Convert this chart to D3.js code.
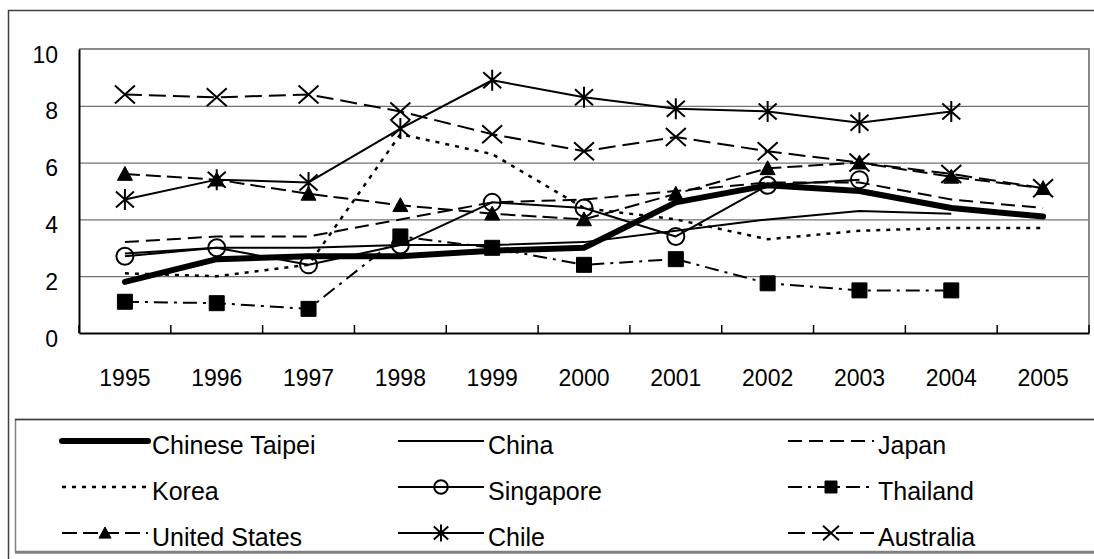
<!DOCTYPE html>
<html><head><meta charset="utf-8">
<script src="https://cdn.jsdelivr.net/npm/d3@7"></script>
<style>
body{margin:0;background:#fff}
svg{display:block}
text{font-family:"Liberation Sans",Arial,sans-serif;fill:#000}
</style>
</head><body>
<svg id="c" width="1094" height="559"></svg>
<script>
const years = ["1995","1996","1997","1998","1999","2000","2001","2002","2003","2004","2005"];
const yTicks = [0,2,4,6,8,10];

const chineseTaipei = [1.8, 2.6, 2.7, 2.7, 2.9, 3.0, 4.6, 5.2, 5.0, 4.4, 4.1];
const china         = [2.8, 3.0, 3.0, 3.1, 3.1, 3.2, 3.6, 4.0, 4.3, 4.2, null];
const japan         = [3.2, 3.4, 3.4, 4.0, 4.6, 4.7, 5.0, 5.3, 5.3, 4.7, 4.4];
const korea         = [2.1, 2.0, 2.4, 7.0, 6.3, 4.4, 4.0, 3.3, 3.6, 3.7, 3.7];
const singapore     = [2.7, 3.0, 2.4, 3.1, 4.6, 4.4, 3.4, 5.2, 5.4, null, null];
const thailand      = [1.1, 1.05, 0.85, 3.4, 3.0, 2.4, 2.6, 1.75, 1.5, 1.5, null];
const unitedStates  = [5.6, 5.4, 4.9, 4.5, 4.2, 4.0, 4.9, 5.8, 6.0, 5.5, 5.1];
const chile         = [4.7, 5.4, 5.3, 7.2, 8.9, 8.3, 7.9, 7.8, 7.4, 7.8, null];
const australia     = [8.4, 8.3, 8.4, 7.8, 7.0, 6.4, 6.9, 6.4, 6.0, 5.6, 5.1];

const seriesNames = ["Chinese Taipei","China","Japan","Korea","Singapore","Thailand","United States","Chile","Australia"];
const seriesValues = [chineseTaipei, china, japan, korea, singapore, thailand, unitedStates, chile, australia];
const styles = [
  {w:6, dash:null, marker:null, cap:"round"},
  {w:2, dash:null, marker:null},
  {w:2, dash:"14,7", marker:null},
  {w:2.5, dash:"4,6", marker:null},
  {w:2, dash:null, marker:"circle"},
  {w:2, dash:"14,6,3,6", marker:"square"},
  {w:2, dash:"15,6", marker:"triangle"},
  {w:2, dash:null, marker:"star"},
  {w:2, dash:"17,7", marker:"x"}
];

const svg = d3.select("#c");
const L = 79, R = 1089, T = 49, B = 333;

// outer chart border
svg.append("rect").attr("x",8.5).attr("y",10.5).attr("width",1100).attr("height",560)
  .attr("fill","none").attr("stroke","#404040").attr("stroke-width",1.5);

const x = d3.scaleBand().domain(years).range([L, R]).padding(0);
const y = d3.scaleLinear().domain([0,10]).range([B, T]);

// gridlines
svg.append("g").selectAll("line").data(yTicks.filter(d=>d>0 && d<10)).join("line")
  .attr("x1",L).attr("x2",R).attr("y1",d=>y(d)+0.5).attr("y2",d=>y(d)+0.5)
  .attr("stroke","#505050").attr("stroke-width",1);

// plot border (top & right)
svg.append("path").attr("d",`M${L},${T} H${R} V${B}`).attr("fill","none")
  .attr("stroke","#8a8a8a").attr("stroke-width",2);

// y axis
const yAxis = svg.append("g").attr("transform",`translate(${L},0)`)
  .call(d3.axisLeft(y).tickValues(yTicks).tickSize(0).tickPadding(0).tickFormat(d3.format("d")));
yAxis.select(".domain").attr("stroke","#000").attr("stroke-width",2);
yAxis.selectAll("text").attr("x",-21).attr("dy",null).attr("y",7)
  .attr("dominant-baseline","middle").style("font-size","23px")
  .style("font-family",'"Liberation Sans",Arial,sans-serif');

// x axis
const xAxis = svg.append("g").attr("transform",`translate(0,${B})`)
  .call(d3.axisBottom(x).tickSize(0).tickPadding(0));
xAxis.select(".domain").attr("stroke","#000").attr("stroke-width",2);
xAxis.selectAll("text").attr("y",53).attr("dy",null)
  .style("font-size","23px").style("font-family",'"Liberation Sans",Arial,sans-serif');
// inward tick marks at category boundaries
const bounds = years.map(d=>x(d)).concat([R]);
svg.append("g").selectAll("line").data(bounds).join("line")
  .attr("x1",d=>d).attr("x2",d=>d).attr("y1",B).attr("y2",B-8)
  .attr("stroke","#000").attr("stroke-width",1.5);

function markerPath(type, s){
  switch(type){
    case "square": { const h=7.5*s; return `M${-h},${-h}H${h}V${h}H${-h}Z`; }
    case "triangle": { const h=7.5*s; return `M0,${-h}L${h},${h*0.85}L${-h},${h*0.85}Z`; }
    case "star": { const a=9*s,b=8*s,v=10.5*s; return `M0,${-v}V${v}M${-a},${-b}L${a},${b}M${-a},${b}L${a},${-b}`; }
    case "x": { const a=10*s; return `M${-a},${-a*0.9}L${a},${a*0.9}M${-a},${a*0.9}L${a},${-a*0.9}`; }
  }
}
function drawMarker(g, type, cx, cy, s){
  if(!type) return;
  if(type==="circle"){
    g.append("circle").attr("cx",cx).attr("cy",cy).attr("r",8.5*s)
      .attr("fill","none").attr("stroke","#000").attr("stroke-width",2);
    return;
  }
  const filled = (type==="square"||type==="triangle");
  g.append("path").attr("d",markerPath(type,s)).attr("transform",`translate(${cx},${cy})`)
    .attr("fill",filled?"#000":"none").attr("stroke","#000").attr("stroke-width",filled?1:2);
}

const line = d3.line().defined(d=>d.v!=null).x(d=>x(d.year)+x.bandwidth()/2).y(d=>y(d.v));

const plotG = svg.append("g");
seriesValues.forEach((vals,i)=>{
  const st = styles[i];
  const data = years.map((yr,j)=>({year:yr, v:vals[j]}));
  const g = plotG.append("g");
  g.append("path").attr("d",line(data)).attr("fill","none").attr("stroke","#000")
    .attr("stroke-width",st.w).attr("stroke-dasharray",st.dash)
    .attr("stroke-linecap",st.cap||"butt").attr("stroke-linejoin","round");
  data.filter(d=>d.v!=null).forEach(d=>drawMarker(g, st.marker, x(d.year)+x.bandwidth()/2, y(d.v), 1));
});

// legend
svg.append("rect").attr("x",15.5).attr("y",419.5).attr("width",1100).attr("height",132)
  .attr("fill","#fff").attr("stroke","#808080").attr("stroke-width",1.5);
svg.append("line").attr("x1",15).attr("x2",1094).attr("y1",419.5).attr("y2",419.5)
  .attr("stroke","#404040").attr("stroke-width",1.5);
svg.append("line").attr("x1",15).attr("x2",1094).attr("y1",552.5).attr("y2",552.5)
  .attr("stroke","#808080").attr("stroke-width",2.5);

const textX = [152, 488, 878];
const rowY = [441, 487, 533];
const sampleLen = 86;
const legG = svg.append("g");
seriesNames.forEach((name,i)=>{
  const st = styles[i];
  const c = i%3, r = Math.floor(i/3);
  const x1 = textX[c]-4, x0 = x1 - sampleLen, yy = rowY[r];
  legG.append("line").attr("x1",x0).attr("x2",x1).attr("y1",yy).attr("y2",yy)
    .attr("stroke","#000").attr("stroke-width",st.w).attr("stroke-dasharray",st.dash)
    .attr("stroke-linecap",st.cap||"butt");
  drawMarker(legG, st.marker, (x0+x1)/2, yy, 0.8);
  legG.append("text").attr("x",textX[c]).attr("y",yy+13)
    .style("font-size","25px").text(name);
});
</script>
</body></html>
